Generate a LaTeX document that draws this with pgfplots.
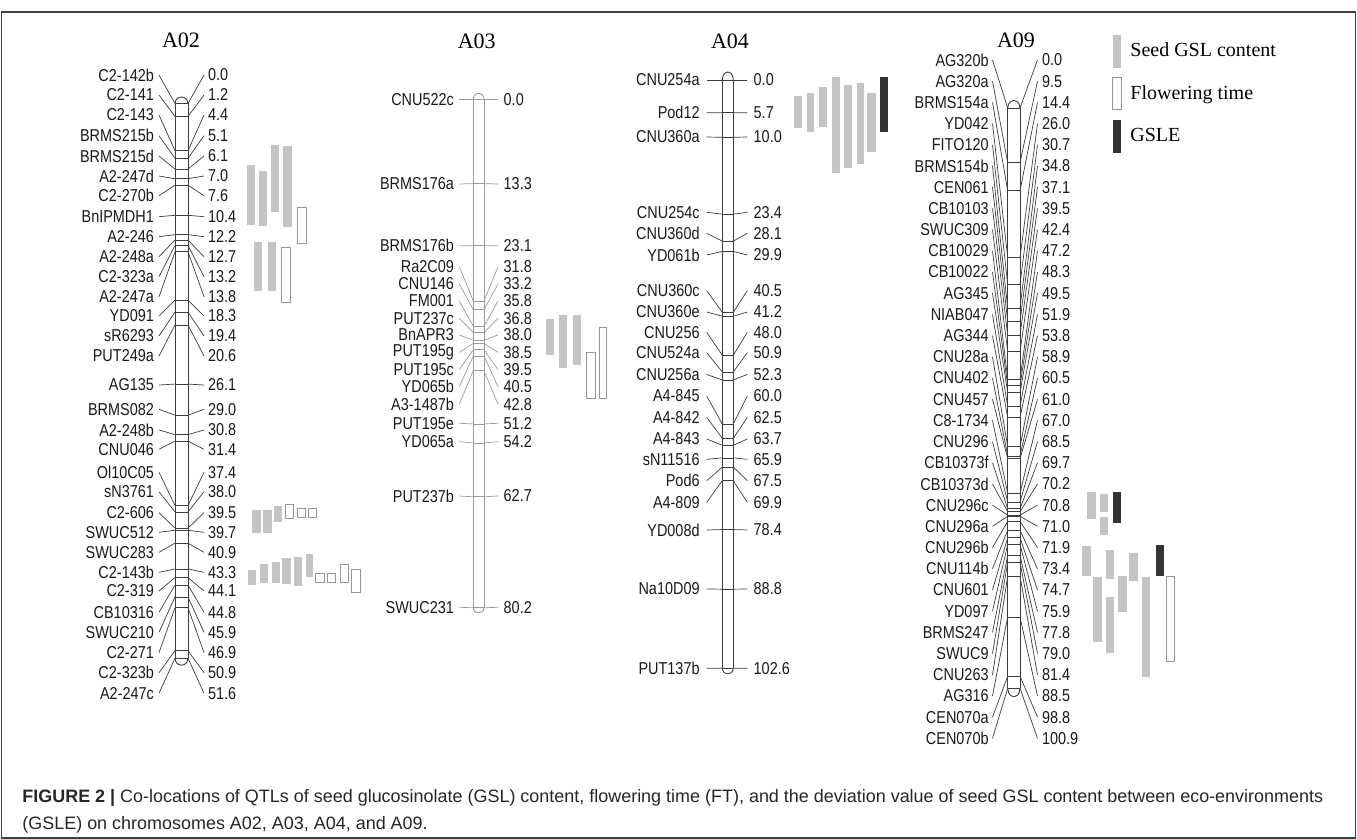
\documentclass[border=0pt]{standalone}
\usepackage{pgfplots}
\pgfplotsset{compat=1.18}
\usepackage{pgfplotstable}
\usepackage{fontspec}
\setmainfont{Liberation Serif}
\newfontfamily\labfam[FakeStretch=0.84]{Liberation Sans}
\newfontfamily\capfam{Liberation Sans}
\newcommand\labfont{\labfam\fontsize{8.6pt}{9pt}\selectfont}
\newcommand\ttlfont{\rmfamily\fontsize{11pt}{12pt}\selectfont}
\newcommand\legfont{\rmfamily\fontsize{10pt}{12pt}\selectfont}
\newcommand\capfont{\capfam\fontsize{8.98pt}{10pt}\selectfont}

\definecolor{gslgray}{RGB}{196,196,196}
\definecolor{ftgray}{RGB}{150,150,150}
\definecolor{gsledark}{RGB}{51,51,51}
\definecolor{chr}{RGB}{60,60,60}
\definecolor{chrA}{RGB}{155,155,155}

% marker name, position (cM), label row (px)
\pgfplotstableread{
name cM ly
C2-142b 0.0 75
C2-141 1.2 95
C2-143 4.4 115
BRMS215b 5.1 135.7
BRMS215d 6.1 156
A2-247d 7.0 176
C2-270b 7.6 195.7
BnIPMDH1 10.4 216.7
A2-246 12.2 236.7
A2-248a 12.7 256.7
C2-323a 13.2 276.7
A2-247a 13.8 296.7
YD091 18.3 316
sR6293 19.4 336
PUT249a 20.6 356
AG135 26.1 385
BRMS082 29.0 409.3
A2-248b 30.8 430
CNU046 31.4 449.3
Ol10C05 37.4 472.3
sN3761 38.0 491.7
C2-606 39.5 512.7
SWUC512 39.7 532.3
SWUC283 40.9 552.3
C2-143b 43.3 572.3
C2-319 44.1 591
CB10316 44.8 612.3
SWUC210 45.9 632.3
C2-271 46.9 652.7
C2-323b 50.9 672.7
A2-247c 51.6 693.3
}\Atwo

\pgfplotstableread{
name cM ly
CNU522c 0.0 99.3
BRMS176a 13.3 184
BRMS176b 23.1 245.7
Ra2C09 31.8 266.7
CNU146 33.2 284
FM001 35.8 301
PUT237c 36.8 318.3
BnAPR3 38.0 335
PUT195g 38.5 352.3
PUT195c 39.5 369.5
YD065b 40.5 386.7
A3-1487b 42.8 404.3
PUT195e 51.2 423.3
YD065a 54.2 441.7
PUT237b 62.7 496
SWUC231 80.2 607.3
}\Athree

\pgfplotstableread{
name cM ly
CNU254a 0.0 80
Pod12 5.7 112.7
CNU360a 10.0 137
CNU254c 23.4 212.3
CNU360d 28.1 233.3
YD061b 29.9 255
CNU360c 40.5 290.7
CNU360e 41.2 312
CNU256 48.0 332.3
CNU524a 50.9 352.7
CNU256a 52.3 374.5
A4-845 60.0 396
A4-842 62.5 417.3
A4-843 63.7 439
sN11516 65.9 459.3
Pod6 67.5 480.7
A4-809 69.9 502.3
YD008d 78.4 530
Na10D09 88.8 589
PUT137b 102.6 668.3
}\Afour

\pgfplotstableread{
name cM ly
AG320b 0.0 60
AG320a 9.5 81.2
BRMS154a 14.4 102.4
YD042 26.0 123.6
FITO120 30.7 144.8
BRMS154b 34.8 166
CEN061 37.1 187.2
CB10103 39.5 208.4
SWUC309 42.4 229.6
CB10029 47.2 250.8
CB10022 48.3 272
AG345 49.5 293.2
NIAB047 51.9 314.4
AG344 53.8 335.6
CNU28a 58.9 356.8
CNU402 60.5 378
CNU457 61.0 399.2
C8-1734 67.0 420.4
CNU296 68.5 441.6
CB10373f 69.7 462.8
CB10373d 70.2 484
CNU296c 70.8 505.2
CNU296a 71.0 526.4
CNU296b 71.9 547.6
CNU114b 73.4 568.8
CNU601 74.7 590
YD097 75.9 611.2
BRMS247 77.8 632.4
SWUC9 79.0 653.6
CNU263 81.4 674.8
AG316 88.5 696
CEN070a 98.8 717.2
CEN070b 100.9 738.4
}\Anine

% unit shape of a chromosome end
\pgfplotstableread{
u v
0 0
0.067 0.5
0.146 0.707
0.25 0.866
0.5 1
0.75 0.866
0.854 0.707
0.933 0.5
1 0
}\capshape

\pgfplotsset{
  conn/.style={draw=chr, line width=0.35pt},
  connA/.style={draw=chrA, line width=0.35pt},
  outl/.style={draw=chr, line width=0.45pt},
  outlA/.style={draw=chrA, line width=0.45pt},
  lbl/.style={only marks, mark=none, point meta=explicit symbolic, nodes near coords,
    nodes near coords style={anchor=east, inner sep=0pt, font=\labfont, text=black!90}},
  num/.style={only marks, mark=none, point meta=explicit symbolic, nodes near coords,
    nodes near coords style={anchor=west, inner sep=0pt, font=\labfont, text=black!90}},
  gsl/.style={fill=gslgray, draw=none},
  ft/.style={fill=white, draw=ftgray, line width=0.5pt},
  gsle/.style={fill=gsledark, draw=none},
}

% chromosome outline: xb, xc, ytop, ybot, htop, hbot, style
\newcommand\chrom[7]{%
  \addplot[#7, smooth] table[x expr=#1+(#2-#1)*\thisrow{u}, y expr=#3-#5*\thisrow{v}] {\capshape};
  \addplot[#7, smooth] table[x expr=#1+(#2-#1)*\thisrow{u}, y expr=#4+#6*\thisrow{v}] {\capshape};
  \addplot[#7] coordinates {(#1,#3) (#1,#4)};
  \addplot[#7] coordinates {(#2,#3) (#2,#4)};
}
% markers: table, y0, px per cM, xa, xb, xc, xd, style
\newcommand\mk[8]{%
  \addplot[#8, quiver={u=#5-#4, v=#2+#3*\thisrow{cM}-\thisrow{ly}}] table[x expr=#4, y=ly] {#1};
  \addplot[#8, quiver={u=#6-#5, v=0}] table[x expr=#5, y expr=#2+#3*\thisrow{cM}] {#1};
  \addplot[#8, quiver={u=#7-#6, v=\thisrow{ly}-#2-#3*\thisrow{cM}}] table[x expr=#6, y expr=#2+#3*\thisrow{cM}] {#1};
}
% labels: table, xlabel end, xnumber start
\newcommand\lb[3]{%
  \addplot[lbl] table[x expr=#2, y=ly, meta=name] {#1};
  \addplot[num] table[x expr=#3, y=ly, meta=cM] {#1};
}
% QTL bar: x1, x2, y1, y2, style
\newcommand\qb[5]{\addplot[#5] coordinates {(#1,#3) (#2,#3) (#2,#4) (#1,#4)} -- cycle;}

\begin{document}
\begin{tikzpicture}
\begin{axis}[
  width=678.5pt, height=419.5pt, scale only axis,
  xmin=0, xmax=1357, ymin=0, ymax=839, y dir=reverse,
  hide axis, clip=false,
]
\addplot[draw=none] coordinates {(0,0) (1357,839)};
% frame
\addplot[draw=black!75, line width=0.6pt] coordinates {(1.5,12) (1355.5,12) (1355.5,838) (1.5,838)} -- cycle;

% ---- A02 ----
\chrom{175}{188}{103.5}{658.2}{6.5}{7}{outl}
\mk{\Atwo}{103.5}{10.75}{159}{175}{188}{204}{conn}
\lb{\Atwo}{154.3}{207.7}
% ---- A03 ----
\chrom{473.3}{484}{99.3}{607.8}{6}{5}{outlA}
\mk{\Athree}{99.3}{6.34}{459.3}{473.3}{484}{498}{connA}
\lb{\Athree}{454.3}{503.3}
% ---- A04 ----
\chrom{722.3}{733.3}{80}{668.3}{8}{5.5}{outl}
\mk{\Afour}{80}{5.734}{706.7}{722.3}{733.3}{747.3}{conn}
\lb{\Afour}{700}{753.3}
% ---- A09 ----
\chrom{1007.7}{1020}{108}{688.2}{7.5}{8.5}{outl}
\mk{\Anine}{108}{5.75}{992.5}{1007.7}{1020}{1037.5}{conn}
\lb{\Anine}{989}{1041.7}

% ---- QTL bars A02 ----
\qb{246.7}{255}{165}{225}{gsl}
\qb{259}{267.3}{170.7}{225.7}{gsl}
\qb{271}{279.3}{145}{211.7}{gsl}
\qb{283.3}{291.7}{145.7}{226.7}{gsl}
\qb{297.7}{306}{207.3}{243.3}{ft}
\qb{254}{262.3}{241.7}{291}{gsl}
\qb{268}{276.3}{241.7}{291}{gsl}
\qb{281}{290}{247.3}{302.3}{ft}
\qb{252.3}{260.7}{510}{533.3}{gsl}
\qb{263.3}{271.7}{510}{533.3}{gsl}
\qb{274}{281.7}{506}{521.7}{gsl}
\qb{285}{293.3}{504.3}{518.3}{ft}
\qb{297.3}{305.7}{509}{517.3}{ft}
\qb{308.3}{316.7}{509}{517.3}{ft}
\qb{248.3}{256}{570}{585}{gsl}
\qb{260}{268.3}{564}{583.3}{gsl}
\qb{271.7}{280}{561.7}{583.3}{gsl}
\qb{282.3}{291}{557.7}{584}{gsl}
\qb{294}{302.3}{556.7}{586}{gsl}
\qb{305.7}{313.3}{554.3}{577.3}{gsl}
\qb{315.7}{324}{573.3}{582.7}{ft}
\qb{327.3}{335.7}{573.3}{582.7}{ft}
\qb{340}{348.3}{565}{582.7}{ft}
\qb{351.7}{360}{570}{592.3}{ft}
% ---- QTL bars A03 ----
\qb{545.7}{554}{319.3}{355}{gsl}
\qb{559}{567.3}{315}{367.7}{gsl}
\qb{572.7}{581}{315}{365}{gsl}
\qb{586.7}{595}{353}{399}{ft}
\qb{599}{606.7}{327.3}{398.3}{ft}
% ---- QTL bars A04 ----
\qb{794.3}{802.3}{96}{128.3}{gsl}
\qb{806.7}{814.3}{92.7}{131.7}{gsl}
\qb{819}{826.7}{86.7}{126.7}{gsl}
\qb{831.7}{840}{77.3}{173.3}{gsl}
\qb{844}{852.3}{85}{168.3}{gsl}
\qb{856.7}{864.3}{83.3}{164}{gsl}
\qb{867.3}{875.7}{93.3}{151.7}{gsl}
\qb{880}{888.3}{76.7}{131.7}{gsle}
% ---- QTL bars A09 ----
\qb{1087.3}{1095.7}{492.3}{519}{gsl}
\qb{1100}{1108.3}{494}{511.7}{gsl}
\qb{1100}{1108.3}{517.3}{535}{gsl}
\qb{1113.3}{1121}{492.3}{523.3}{gsle}
\qb{1082.3}{1091}{546}{575.7}{gsl}
\qb{1093.3}{1101.7}{576.7}{641.7}{gsl}
\qb{1106}{1114.3}{550}{579.3}{gsl}
\qb{1106}{1114.3}{597.3}{652.7}{gsl}
\qb{1118.3}{1126.7}{576}{612.3}{gsl}
\qb{1129.3}{1137.7}{552.7}{580.7}{gsl}
\qb{1141.7}{1150}{576.7}{676.7}{gsl}
\qb{1156}{1164.3}{545}{576}{gsle}
\qb{1166}{1174.3}{576.7}{661.7}{ft}
% ---- legend ----
\qb{1112.7}{1121}{35}{68.3}{gsl}
\qb{1112.7}{1121}{77.7}{110}{ft}
\qb{1113.3}{1121}{120}{153.3}{gsle}
\node[anchor=west, font=\legfont, inner sep=0pt] at (axis cs:1130,50) {Seed GSL content};
\node[anchor=west, font=\legfont, inner sep=0pt] at (axis cs:1130,95) {Flowering time};
\node[anchor=west, font=\legfont, inner sep=0pt] at (axis cs:1130,135) {GSLE};

% ---- titles ----
\node[font=\ttlfont, inner sep=0pt] at (axis cs:181,40) {A02};
\node[font=\ttlfont, inner sep=0pt] at (axis cs:476.7,41.7) {A03};
\node[font=\ttlfont, inner sep=0pt] at (axis cs:730,41.7) {A04};
\node[font=\ttlfont, inner sep=0pt] at (axis cs:1016,40) {A09};

% ---- caption ----
\node[anchor=west, font=\capfont, inner sep=0pt, text=black!85] at (axis cs:22,798)
  {\textbf{FIGURE 2} \textbf{|} Co-locations of QTLs of seed glucosinolate (GSL) content, flowering time (FT), and the deviation value of seed GSL content between eco-environments};
\node[anchor=west, font=\capfont, inner sep=0pt, text=black!85] at (axis cs:22,825)
  {(GSLE) on chromosomes A02, A03, A04, and A09.};
\end{axis}
\end{tikzpicture}
\end{document}
